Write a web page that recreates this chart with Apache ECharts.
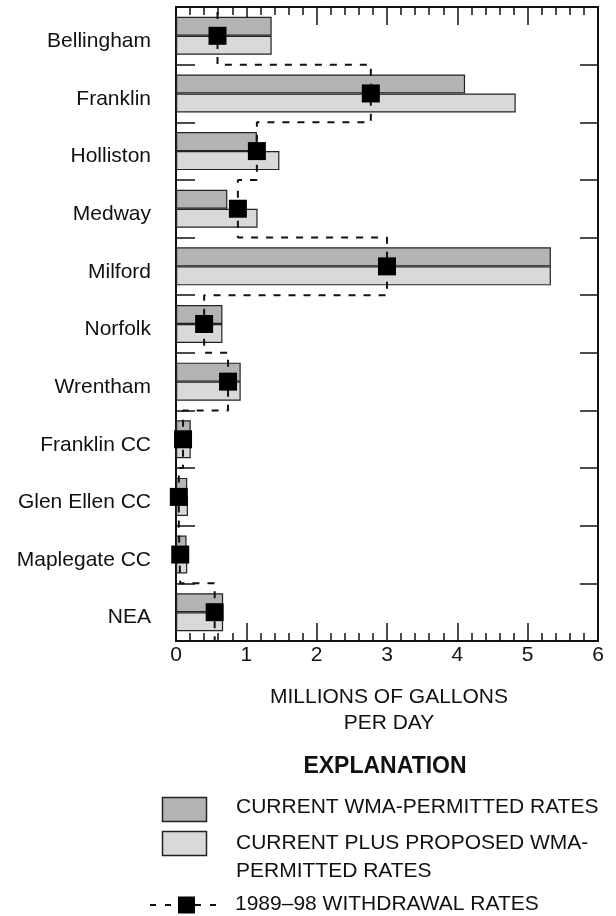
<!DOCTYPE html>
<html><head><meta charset="utf-8">
<script src="https://cdn.jsdelivr.net/npm/echarts@6/dist/echarts.min.js"></script>
<style>html,body{margin:0;padding:0;background:#fff}#c{width:616px;height:916px}</style>
</head><body><div id="c"></div>
<script>
// ---- data ----
const categories = ['Bellingham','Franklin','Holliston','Medway','Milford','Norfolk','Wrentham','Franklin CC','Glen Ellen CC','Maplegate CC','NEA'];
const currentPermitted  = [1.36, 4.11, 1.15, 0.73, 5.33, 0.66, 0.92, 0.21, 0.16, 0.15, 0.67];
const proposedPermitted = [1.36, 4.83, 1.47, 1.16, 5.33, 0.66, 0.92, 0.21, 0.17, 0.16, 0.67];
const withdrawal = [0.59, 2.77, 1.15, 0.88, 3.00, 0.40, 0.74, 0.10, 0.04, 0.06, 0.55];
const xMin = 0, xMax = 6, xInterval = 1;
const axisTitle = 'MILLIONS OF GALLONS\nPER DAY';
const legendTitle = 'EXPLANATION';
const legendNames = ['CURRENT WMA-PERMITTED RATES', 'CURRENT PLUS PROPOSED WMA-\nPERMITTED RATES', '1989\u201398 WITHDRAWAL RATES'];

// ---- derived ----
const stepPts = [];
withdrawal.forEach((v, i) => { stepPts.push([v, i], [v, i + 1]); });
const markerPts = withdrawal.map((v, i) => [v, i]);

const FONT = '"Liberation Sans", Arial, Helvetica, sans-serif';
const DARK = '#b3b3b3', LIGHT = '#d9d9d9', INK = '#111';

const chart = echarts.init(document.getElementById('c'), null, {renderer: 'canvas'});
const mkLine = () => ({show: true, onZero: false, lineStyle: {color: INK, width: 2}});
const tickStyle = () => ({color: INK, width: 1.5});

chart.setOption({
  animation: false,
  backgroundColor: '#fff',
  textStyle: {fontFamily: FONT, color: INK},
  grid: {left: 176, right: 18, top: 7, bottom: 275, containLabel: false},
  xAxis: [
    {type: 'value', position: 'bottom', min: xMin, max: xMax, interval: xInterval,
     axisLine: mkLine(), splitLine: {show: false},
     axisTick: {show: true, inside: true, length: 18, lineStyle: tickStyle()},
     minorTick: {show: true, splitNumber: 5, length: 8, lineStyle: tickStyle()},
     axisLabel: {show: true, margin: 4, fontSize: 21, fontFamily: FONT, color: INK}},
    {type: 'value', position: 'top', min: xMin, max: xMax, interval: xInterval,
     axisLine: mkLine(), splitLine: {show: false},
     axisTick: {show: true, inside: true, length: 18, lineStyle: tickStyle()},
     minorTick: {show: true, splitNumber: 5, length: 8, lineStyle: tickStyle()},
     axisLabel: {show: false}}
  ],
  yAxis: [
    {type: 'category', data: categories, inverse: true, position: 'left',
     axisLine: mkLine(), boundaryGap: true,
     axisTick: {show: true, inside: true, length: 19, lineStyle: tickStyle()},
     axisLabel: {show: true, margin: 25, fontSize: 21, fontFamily: FONT, color: INK, verticalAlign: 'top', lineHeight: 11}},
    {type: 'category', data: categories, inverse: true, position: 'right',
     axisLine: mkLine(), boundaryGap: true,
     axisTick: {show: true, inside: true, length: 18, lineStyle: tickStyle()},
     axisLabel: {show: false}},
    {type: 'value', min: 0, max: categories.length, inverse: true, show: false, position: 'right',
     axisLine: {onZero: false}}
  ],
  series: [
    {name: legendNames[0], type: 'bar', xAxisIndex: 0, yAxisIndex: 0, data: currentPermitted,
     barWidth: 19, barGap: '0%', itemStyle: {color: DARK, borderColor: '#222', borderWidth: 1.2}, z: 2},
    {name: legendNames[1], type: 'bar', xAxisIndex: 0, yAxisIndex: 0, data: proposedPermitted,
     barWidth: 19, barGap: '0%', itemStyle: {color: LIGHT, borderColor: '#222', borderWidth: 1.2}, z: 2},
    {name: 'step', type: 'line', xAxisIndex: 0, yAxisIndex: 2, data: stepPts, symbol: 'none',
     lineStyle: {color: INK, width: 2, type: [7, 8], dashOffset: 10}, z: 3, silent: true},
    {name: legendNames[2], type: 'scatter', xAxisIndex: 0, yAxisIndex: 0, data: markerPts,
     symbol: 'rect', symbolSize: 18, itemStyle: {color: '#000', opacity: 1}, z: 4}
  ],
  graphic: [
    {type: 'text', style: {x: 389, y: 710, text: axisTitle, textAlign: 'center', textVerticalAlign: 'middle', font: '21px ' + FONT, lineHeight: 25.5, fill: INK}},
    {type: 'text', style: {x: 385, y: 767, text: legendTitle, textAlign: 'center', textVerticalAlign: 'middle', font: 'bold 23px ' + FONT, fill: INK}},
    {type: 'rect', shape: {x: 162.5, y: 797.5, width: 44, height: 24}, style: {fill: DARK, stroke: '#222', lineWidth: 1.5}},
    {type: 'text', style: {x: 236, y: 807, text: legendNames[0], textVerticalAlign: 'middle', font: '21px ' + FONT, fill: INK}},
    {type: 'rect', shape: {x: 162.5, y: 831.5, width: 44, height: 24}, style: {fill: LIGHT, stroke: '#222', lineWidth: 1.5}},
    {type: 'text', style: {x: 236, y: 857, text: legendNames[1], textVerticalAlign: 'middle', font: '21px ' + FONT, lineHeight: 28.5, fill: INK}},
    {type: 'line', shape: {x1: 150, y1: 905, x2: 220, y2: 905}, style: {stroke: INK, lineWidth: 2, lineDash: [6, 9]}},
    {type: 'rect', shape: {x: 178, y: 896.5, width: 17, height: 17}, style: {fill: '#000'}},
    {type: 'text', style: {x: 235, y: 904, text: legendNames[2], textVerticalAlign: 'middle', font: '21px ' + FONT, fill: INK}}
  ]
});
</script>
</body></html>
